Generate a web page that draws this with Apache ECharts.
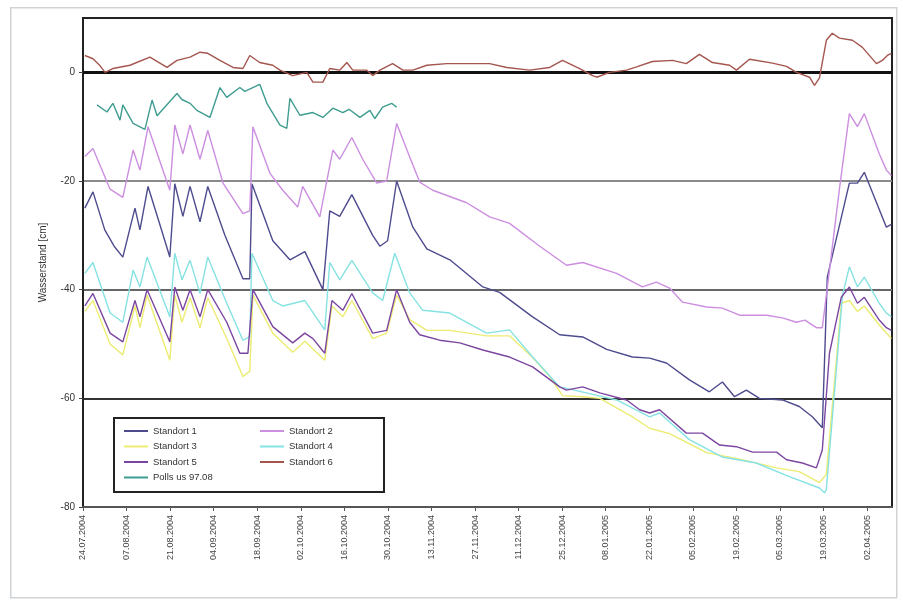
<!DOCTYPE html>
<html>
<head>
<meta charset="utf-8">
<script src="https://cdn.jsdelivr.net/npm/echarts@6/dist/echarts.min.js"></script>
<style>
  html, body { margin: 0; padding: 0; background: #fff; }
  #chart { width: 903px; height: 603px; }
</style>
</head>
<body>
<div id="chart"></div>
<script>
// x-Werte sind Tage ab 24.07.2004, Ticks alle 14 Tage
var tickLabels = ['24.07.2004', '07.08.2004', '21.08.2004', '04.09.2004', '18.09.2004', '02.10.2004',
  '16.10.2004', '30.10.2004', '13.11.2004', '27.11.2004', '11.12.2004', '25.12.2004', '08.01.2005',
  '22.01.2005', '05.02.2005', '19.02.2005', '05.03.2005', '19.03.2005', '02.04.2005'];

var seriesNames = ['Standort 1', 'Standort 2', 'Standort 3', 'Standort 4', 'Standort 5', 'Standort 6', 'Polls us 97.08'];

var standort1 = [[0.6,-25],[3.2,-22],[7,-29],[10,-32],[12.8,-34],[16.7,-25],[18.3,-29],[20.9,-21],[24.7,-28],[27.9,-34],
  [29.5,-20.5],[32.1,-26.5],[34.4,-21],[37.6,-27.5],[40.1,-21],[45.6,-30],[51.4,-38],[53.6,-38],[54.3,-20.5],[61,-31],
  [66.5,-34.5],[71.3,-33],[77.1,-40],[79.3,-25.5],[82.5,-26.5],[86.4,-22.5],[93.1,-30],[95.4,-32],[97.9,-31],[100.8,-20],
  [106,-28.5],[110.5,-32.5],[117.9,-34.5],[128.5,-39.5],[133.9,-40.5],[144.5,-45],[153.2,-48.3],[160.6,-48.7],[168.3,-51],
  [176.6,-52.4],[182.1,-52.6],[187.5,-53.5],[194.9,-56.6],[201.3,-58.8],[205.5,-57],[209.4,-59.7],[213.2,-58.5],[217.4,-60],
  [224.8,-60.3],[230.2,-61.5],[234.4,-63.4],[237.6,-65.4],[239.2,-37.7],[246.3,-20.4],[248.9,-20.4],[251.1,-18.4],
  [258.2,-28.5],[259.8,-28]];

var standort2 = [[0.6,-15.5],[3.2,-14],[8.7,-21.5],[12.8,-23],[16.1,-14.3],[18.3,-18],[20.9,-10],[27.9,-21.7],[29.5,-9.7],
  [32.1,-15],[34.4,-9.7],[37.6,-16],[40.1,-10.7],[45,-20.4],[51.4,-26],[53.6,-25.5],[54.6,-10],[60.1,-18.6],[64.2,-21.7],
  [69,-24.8],[70.6,-21],[76.1,-26.6],[80.3,-14.3],[82.5,-16],[86.4,-12],[89.9,-16],[94.4,-20.4],[97.6,-20],[100.8,-9.4],
  [105,-15.6],[108.2,-20.2],[112.4,-21.7],[123.3,-24],[130.7,-26.6],[137.1,-27.8],[146.8,-32],[155.4,-35.5],[160.6,-35],
  [171.5,-37],[179.8,-39.5],[184.3,-38.6],[188.5,-39.7],[192.7,-42.3],[200.4,-43.2],[205.5,-43.4],[211,-44.7],[219.7,-44.7],
  [224.8,-45.2],[229.3,-46],[232,-45.6],[235.7,-47],[237.6,-47],[239.9,-36.4],[243.1,-21.5],[246.3,-7.6],[248.9,-10],
  [251.1,-7.6],[255.9,-15],[258.2,-18],[259.8,-19]];

var standort3 = [[0.6,-44],[3.2,-42],[8.7,-50],[12.8,-52],[16.7,-43],[18.3,-47],[20.6,-41],[27.9,-53],[29.5,-41],[31.8,-46],
  [34.4,-41.5],[37.6,-47],[40.1,-41.5],[46.2,-49],[51.4,-56],[53.6,-55],[54.6,-41],[61,-48],[67.4,-51.5],[71.3,-49.5],
  [77.7,-53],[80,-43],[83.5,-45],[86.4,-42],[93.1,-49],[97.6,-48],[100.8,-41],[105,-45.5],[110.5,-47.5],[117.9,-47.5],
  [129.7,-48.5],[137.1,-48.5],[144.5,-52.5],[150,-56],[154.1,-59.5],[160.6,-59.7],[166.1,-60],[176.6,-63.4],[182.1,-65.5],
  [188.5,-66.5],[200.4,-70],[211,-71.2],[222.9,-72.8],[230.2,-73.5],[236.7,-75.5],[238.9,-74],[243.7,-42.5],[246.3,-42],
  [248.9,-44],[251.1,-43],[255.9,-46.5],[259.8,-49]];

var standort4 = [[0.6,-37],[3.2,-35],[8.7,-44.3],[12.8,-46],[16.1,-36.4],[18.3,-39.5],[20.6,-34],[27.9,-45],[29.5,-33.3],
  [31.8,-38.2],[34.4,-34.6],[37.6,-40.7],[40.1,-34],[46.2,-42.5],[51.4,-49.3],[53.6,-48.7],[54.3,-33.3],[61,-42],[64.2,-43],
  [71.3,-42],[77.7,-47.4],[79.3,-35],[82.5,-38.2],[86.4,-34.6],[93.1,-40.6],[96.3,-42],[100.2,-33.3],[105,-40.6],[109.2,-43.8],
  [117.9,-44.3],[129.7,-48],[137.1,-47.4],[144.5,-52.4],[153.2,-57.9],[161.8,-59],[171.5,-60.3],[182.1,-63.4],[185.3,-62.7],
  [194.9,-67.6],[205.5,-70.8],[216.4,-71.9],[227,-74.4],[236.7,-76.5],[238.3,-77.4],[238.9,-76.8],[244.1,-41],[246.3,-35.8],
  [248.9,-39.5],[251.1,-37.7],[255.9,-42.5],[258.2,-44.3],[259.8,-45]];

var standort5 = [[0.6,-43],[3.2,-40.7],[8.7,-48],[12.8,-49.6],[16.7,-42],[18.3,-45],[20.6,-40],[27.9,-49.6],[29.5,-39.5],
  [32.1,-43.8],[34.4,-40],[37.6,-45],[40.1,-40],[46.2,-46],[50.4,-51.7],[53,-51.7],[54.6,-40],[61,-46.8],[67.4,-49.8],
  [71.3,-48],[73.9,-49],[77.7,-51.7],[80,-42],[83.5,-43.8],[86.4,-40.7],[93.1,-48],[97.6,-47.5],[100.8,-40],[105,-46],
  [108.2,-48.3],[114.6,-49.3],[121.1,-49.8],[128.5,-51.1],[137.1,-52.4],[144.5,-54.2],[153.2,-57.9],[155.4,-58.5],
  [160.6,-57.9],[166.1,-59],[174.7,-60.3],[178.9,-62.1],[182.1,-62.7],[185.3,-62.1],[193.9,-66.4],[199.1,-66.4],[204.6,-68.6],
  [210,-68.9],[215.2,-69.9],[222.9,-69.9],[226.1,-71.3],[231.2,-71.9],[235.7,-72.8],[237.6,-69.5],[239.9,-51.7],[243.7,-41.4],
  [246.3,-39.5],[248.9,-42.5],[251.1,-41.4],[255.9,-45.6],[258.2,-47],[259.8,-47.5]];

var standort6 = [[0.6,3.1],[3.2,2.5],[5.5,1.2],[7.1,0],[9.6,0.7],[15.1,1.3],[21.5,2.8],[27,0.9],[30.2,2.2],[34.4,2.8],
  [37.6,3.7],[40.1,3.5],[44,2.2],[48.2,0.9],[51.4,0.7],[53.6,3.1],[56.8,1.8],[61,1.3],[63.3,0.4],[67.4,-0.6],[71.9,0],
  [73.9,-1.8],[77.1,-1.8],[79.3,0.7],[82.5,0.4],[84.8,1.8],[86.7,0.4],[91.2,0.4],[93.1,-0.6],[95.4,0.4],[99.5,1.6],
  [102.8,0.4],[106,0.4],[110.5,1.3],[116.9,1.6],[123.3,1.6],[130.7,1.6],[136.2,0.9],[143.5,0.4],[150,0.9],[154.1,2.2],
  [159.6,0.7],[163.8,-0.6],[165.1,-0.9],[169.2,0],[174.7,0.4],[177.9,1],[183,2],[189.5,2.2],[193.9,1.6],[198.1,3.3],
  [202.3,1.8],[207.8,1.3],[210,0.4],[214.2,2.4],[221.6,1.7],[226.1,1.1],[229.3,0],[233.5,-0.9],[235.1,-2.4],[236.7,-1],
  [238.9,5.9],[240.8,7.2],[243.1,6.3],[247.3,5.9],[250.5,4.6],[255,1.6],[256.9,2.2],[258.5,3.1],[259.8,3.5]];

var polls = [[4.5,-6],[7.7,-7.3],[9.6,-5.7],[11.9,-8.8],[12.8,-6],[16.1,-9.4],[19.9,-10.5],[22.2,-5.1],[23.8,-8],
  [30.2,-3.9],[31.8,-5],[34.4,-5.7],[36.6,-7],[40.8,-8.3],[44,-2.8],[46.2,-4.6],[50.4,-2.8],[52,-3.5],[56.8,-2.2],
  [59.1,-5.7],[63.3,-9.7],[65.5,-10.3],[66.5,-4.8],[69.7,-7.9],[73.9,-7.4],[77.1,-8.3],[80.3,-6.6],[83.5,-7.4],
  [85.5,-6.8],[89,-8.3],[92.2,-7],[93.8,-8.5],[96.3,-6.4],[99.2,-5.7],[100.8,-6.4]];

var colors = ['#4d4b8e', '#cc8ee0', '#ecec72', '#86e2e2', '#7c46a0', '#a4564e', '#3f9c90'];

var myChart = echarts.init(document.getElementById('chart'));

var allData = [standort1, standort2, standort3, standort4, standort5, standort6, polls];
var series = allData.map(function (d, i) {
  return {
    name: seriesNames[i],
    type: 'line',
    data: d,
    symbol: 'none',
    lineStyle: { width: 1.4, color: colors[i] },
    itemStyle: { color: colors[i] },
    z: i === 2 ? 1 : 2
  };
});
// dicke Null-Linie
series[5].markLine = {
  silent: true,
  symbol: 'none',
  label: { show: false },
  lineStyle: { color: '#111', width: 3, type: 'solid' },
  data: [{ yAxis: 0 }],
  z: 1
};

var legendText = { fontSize: 9.5, color: '#333', fontFamily: 'Liberation Sans' };

myChart.setOption({
  backgroundColor: '#fff',
  animation: false,
  grid: {
    left: 83, right: 11, top: 18, bottom: 96,
    show: true, borderColor: '#222', borderWidth: 2
  },
  legend: [
    {
      data: [seriesNames[0], seriesNames[2], seriesNames[4], seriesNames[6]],
      orient: 'vertical', left: 119, top: 421, itemGap: 5.5, z: 20,
      icon: 'rect', itemWidth: 24, itemHeight: 2, textStyle: legendText
    },
    {
      data: [seriesNames[1], seriesNames[3], seriesNames[5]],
      orient: 'vertical', left: 255, top: 421, itemGap: 5.5, z: 20,
      icon: 'rect', itemWidth: 24, itemHeight: 2, textStyle: legendText
    }
  ],
  graphic: [
    {
      type: 'rect', left: 10, top: 7, z: -10, silent: true,
      shape: { width: 886, height: 590 },
      style: { fill: '#fff', stroke: '#cfd3d6', lineWidth: 1.5 }
    },
    {
      type: 'rect', left: 113, top: 417, z: 3, silent: true,
      shape: { width: 270, height: 74 },
      style: { fill: '#fff', stroke: '#222', lineWidth: 2 }
    }
  ],
  xAxis: {
    type: 'value',
    min: 0, max: 260, interval: 14,
    axisLine: { show: true, onZero: false, lineStyle: { color: '#555', width: 2 } },
    axisTick: { show: true, length: 4, lineStyle: { color: '#555' } },
    splitLine: { show: false },
    axisLabel: {
      rotate: 90, fontSize: 9, color: '#444', fontFamily: 'Liberation Sans', margin: 8,
      showMaxLabel: false,
      formatter: function (v) {
        var k = Math.round(v / 14);
        return (Math.abs(v - k * 14) < 0.01 && tickLabels[k]) ? tickLabels[k] : '';
      }
    }
  },
  yAxis: {
    type: 'value',
    min: -80, max: 10, interval: 20,
    name: 'Wasserstand [cm]',
    nameLocation: 'middle', nameGap: 35,
    nameTextStyle: { fontSize: 10, color: '#333', fontFamily: 'Liberation Sans' },
    axisLine: { show: true, lineStyle: { color: '#222', width: 2 } },
    axisTick: { show: true, length: 4, lineStyle: { color: '#444' } },
    axisLabel: { fontSize: 10, color: '#333', fontFamily: 'Liberation Sans', margin: 8, showMaxLabel: false },
    splitLine: {
      show: true,
      lineStyle: { color: ['#222', '#333', '#666', '#8a8a8a', '#111', '#222'], width: 2 }
    }
  },
  series: series
});
</script>
</body>
</html>
